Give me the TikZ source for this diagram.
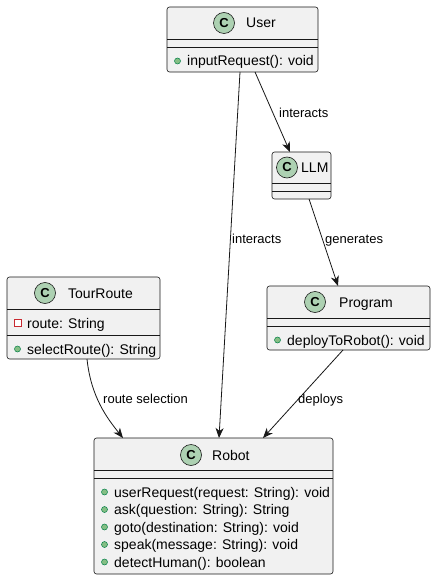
\documentclass[tikz,border=0pt]{standalone}
\usepackage{fontspec}
\setmainfont{Liberation Sans}
\usetikzlibrary{arrows.meta}
\definecolor{boxfill}{HTML}{F1F1F1}
\definecolor{ln}{HTML}{181818}
\definecolor{spot}{HTML}{ADD1B2}
\definecolor{pubf}{HTML}{84BE84}
\definecolor{pubd}{HTML}{038048}
\definecolor{privc}{HTML}{C82930}
\begin{document}
\begin{tikzpicture}[x=1pt,y=-1pt,
 cls/.style={draw=ln, fill=boxfill, rounded corners=2.5pt, line width=0.6pt, anchor=north west, inner sep=0, outer sep=0},
 spotc/.style={circle, draw=ln, fill=spot, line width=0.6pt, minimum size=21pt, inner sep=0, font=\fontsize{13}{13}\selectfont\bfseries},
 title/.style={font=\fontsize{14}{14}\selectfont, inner sep=0, anchor=base west},
 mem/.style={font=\fontsize{14}{14}\selectfont, inner sep=0, anchor=base west},
 pub/.style={circle, fill=pubf, draw=pubd, line width=0.5pt, minimum size=6pt, inner sep=0},
 privm/.style={rectangle, draw=privc, fill=white, line width=0.6pt, minimum size=6.5pt, inner sep=0},
 sepl/.style={draw=ln, line width=0.6pt},
 arr/.style={draw=ln, line width=0.8pt, -{Stealth[length=10pt,width=8pt,inset=3pt]}},
 lbl/.style={font=\fontsize{13}{13}\selectfont, inner sep=0, anchor=base west}
]
\useasboundingbox (0,0) rectangle (436,580);
\fill[white] (0,0) rectangle (436,580);

% ---------- User ----------
\node[cls, minimum width=151pt, minimum height=65pt] (user) at (167,7) {};
\draw[sepl] ([yshift=-32pt]user.north west) -- ([yshift=-32pt]user.north east);
\draw[sepl] ([yshift=-40pt]user.north west) -- ([yshift=-40pt]user.north east);
\node[spotc] (userC) at (224,23) {C};
\node[title] (userT) at (246,28) {User};
\node[pub] (userd1) at (177.5,61) {};
\node[mem] (userm1) at (187,66) {inputRequest(): void};

% ---------- LLM ----------
\node[cls, minimum width=59pt, minimum height=47pt] (llm) at (272,152) {};
\draw[sepl] ([yshift=-31pt]llm.north west) -- ([yshift=-31pt]llm.north east);
\draw[sepl] ([yshift=-39pt]llm.north west) -- ([yshift=-39pt]llm.north east);
\node[spotc] (llmC) at (287,167.5) {C};
\node[title] (llmT) at (301,172.5) {LLM};

% ---------- TourRoute ----------
\node[cls, minimum width=153pt, minimum height=82pt] (tour) at (7,277) {};
\draw[sepl] ([yshift=-32pt]tour.north west) -- ([yshift=-32pt]tour.north east);
\draw[sepl] ([yshift=-58pt]tour.north west) -- ([yshift=-58pt]tour.north east);
\node[spotc] (tourC) at (45,293) {C};
\node[title] (tourT) at (68,298) {TourRoute};
\node[privm] (tourd1) at (18,323) {};
\node[mem] (tourm1) at (27,328) {route: String};
\node[pub] (tourd2) at (17.5,349) {};
\node[mem] (tourm2) at (27,354) {selectRoute(): String};

% ---------- Program ----------
\node[cls, minimum width=163pt, minimum height=64pt] (prog) at (267,286) {};
\draw[sepl] ([yshift=-32pt]prog.north west) -- ([yshift=-32pt]prog.north east);
\draw[sepl] ([yshift=-40pt]prog.north west) -- ([yshift=-40pt]prog.north east);
\node[spotc] (progC) at (315,302) {C};
\node[title] (progT) at (339,307) {Program};
\node[pub] (progd1) at (277.5,340) {};
\node[mem] (progm1) at (287,345) {deployToRobot(): void};

% ---------- Robot ----------
\node[cls, minimum width=239pt, minimum height=136pt] (robot) at (94,438) {};
\draw[sepl] ([yshift=-32pt]robot.north west) -- ([yshift=-32pt]robot.north east);
\draw[sepl] ([yshift=-40pt]robot.north west) -- ([yshift=-40pt]robot.north east);
\node[spotc] (robotC) at (191,455) {C};
\node[title] (robotT) at (212,460) {Robot};
\node[pub] (rd1) at (104.5,492) {};
\node[mem] (rm1) at (114,497) {userRequest(request: String): void};
\node[pub] (rd2) at (104.5,509.5) {};
\node[mem] (rm2) at (114,514.5) {ask(question: String): String};
\node[pub] (rd3) at (104.5,527) {};
\node[mem] (rm3) at (114,532) {goto(destination: String): void};
\node[pub] (rd4) at (104.5,544.5) {};
\node[mem] (rm4) at (114,549.5) {speak(message: String): void};
\node[pub] (rd5) at (104.5,562) {};
\node[mem] (rm5) at (114,567) {detectHuman(): boolean};

% ---------- connectors ----------
\draw[arr] ([xshift=88pt]user.south west) -- ([xshift=18pt]llm.north west);
\node[lbl] (l1) at (279,117.5) {interacts};
\draw[arr] ([xshift=73pt]user.south west) -- ([xshift=125pt]robot.north west);
\node[lbl] (l2) at (232,243.5) {interacts};
\draw[arr] ([xshift=37pt]llm.south west) -- ([xshift=71pt]prog.north west);
\node[lbl] (l3) at (325,243.5) {generates};
\draw[arr] ([xshift=80pt]tour.south west) .. controls +(4,38) and +(-16,-20) .. ([xshift=29pt]robot.north west);
\node[lbl] (l4) at (103,403.5) {route selection};
\draw[arr] ([xshift=76pt]prog.south west) -- ([xshift=169pt]robot.north west);
\node[lbl] (l5) at (298,403.5) {deploys};
\end{tikzpicture}
\end{document}
